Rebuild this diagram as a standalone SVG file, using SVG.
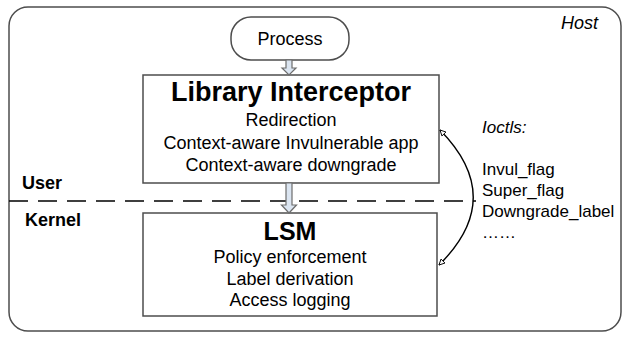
<svg xmlns="http://www.w3.org/2000/svg" width="629" height="339" viewBox="0 0 629 339">
<style>
.box{fill:#fff;stroke:#4d4d4d;stroke-width:1.5}
.t{font-family:"Liberation Sans",Arial,sans-serif;fill:#000;text-anchor:middle}
.b{font-weight:bold}
.s{font-family:"Liberation Sans",Arial,sans-serif;fill:#000;font-size:17px}
.blk{fill:#dbe5f1;stroke:#6d6d6d;stroke-width:1.2}
.con{fill:none;stroke:#000;stroke-width:1.4}
</style>
<defs>
<marker id="ah" viewBox="0 0 10 10" refX="9" refY="5" markerWidth="7" markerHeight="7" orient="auto-start-reverse" markerUnits="userSpaceOnUse">
<path d="M1,1 L9,5 L1,9 Z" fill="#fff" stroke="#000" stroke-width="1.3"/>
</marker>
</defs>
<rect x="9" y="7" width="612" height="324" rx="19" ry="19" fill="#fff" stroke="#4d4d4d" stroke-width="1.5"/>
<text x="598" y="29" class="s" style="font-style:italic;font-size:18px" text-anchor="end">Host</text>
<line x1="9" y1="201" x2="476" y2="201" stroke="#000" stroke-width="1.5" stroke-dasharray="19,10"/>
<text x="22" y="189" class="s b" style="font-size:18px">User</text>
<text x="25" y="226" class="s b" style="font-size:18px">Kernel</text>
<g id="process">
<rect x="231" y="17" width="118" height="43" rx="20" ry="20" class="box"/>
<text x="290" y="45" class="t" font-size="18">Process</text>
</g>
<g id="library-interceptor">
<rect x="143" y="75" width="296" height="108" class="box"/>
<text x="291" y="101" class="t b" font-size="27">Library Interceptor</text>
<text x="291" y="126" class="t" font-size="18">Redirection</text>
<text x="291" y="149" class="t" font-size="18">Context-aware Invulnerable app</text>
<text x="291" y="171" class="t" font-size="18">Context-aware downgrade</text>
</g>
<g id="lsm">
<rect x="143" y="213" width="294" height="103" class="box"/>
<text x="290" y="240" class="t b" font-size="25">LSM</text>
<text x="290" y="263" class="t" font-size="18">Policy enforcement</text>
<text x="290" y="285" class="t" font-size="18">Label derivation</text>
<text x="290" y="306" class="t" font-size="18">Access logging</text>
</g>
<g id="ioctls">
<text x="482" y="133" class="s" style="font-style:italic">Ioctls:</text>
<text x="482" y="175" class="s">Invul_flag</text>
<text x="482" y="196" class="s">Super_flag</text>
<text x="482" y="217" class="s">Downgrade_label</text>
<text x="482" y="238" class="s">……</text>
</g>
<g id="connectors">
<path class="blk" d="M286,60 L292,60 L292,68 L296,68 L289,75 L282,68 L286,68 Z"/>
<path class="blk" d="M286,183 L292,183 L292,205 L296.5,205 L289,213 L281.5,205 L286,205 Z"/>
<path class="con" d="M440,130 Q507,198 439,265" marker-start="url(#ah)" marker-end="url(#ah)"/>
</g>
</svg>
